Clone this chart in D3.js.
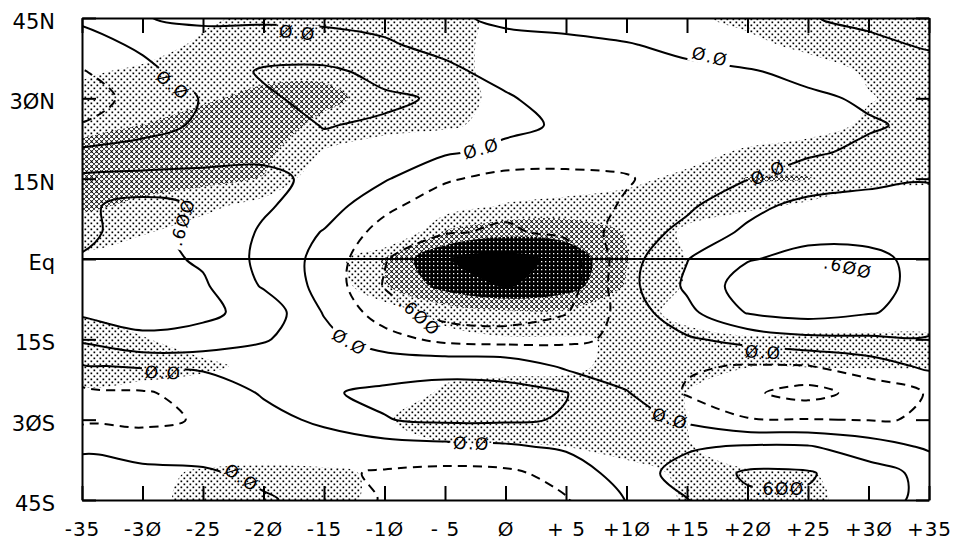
<!DOCTYPE html>
<html>
<head>
<meta charset="utf-8">
<title>Lag regression map</title>
<script src="https://d3js.org/d3.v7.min.js"></script>
<style>
  body { margin: 0; background: #fff; }
  svg { display: block; }
</style>
</head>
<body>
<script>
var w = 953, h = 543;

// grid of the analysis: longitude lag (columns) and latitude (rows, north to south)
var lons = [-35, -30, -25, -20, -15, -10, -5, 0, 5, 10, 15, 20, 25, 30, 35];
var lats = [45, 40, 35, 30, 25, 20, 15, 10, 5, 0, -5, -10, -15, -20, -25, -30, -35, -40, -45];

var xTickLabels = ["-35", "-3Ø", "-25", "-2Ø", "-15", "-1Ø", "- 5", "Ø", "+ 5", "+1Ø", "+15", "+2Ø", "+25", "+3Ø", "+35"];
var yTickValues = [45, 30, 15, 0, -15, -30, -45];
var yTickLabels = ["45N", "3ØN", "15N", "Eq", "15S", "3ØS", "45S"];

var lineLevels = [-0.6, -0.3, 0, 0.3, 0.6];
var shadeLevels = [1, 2, 3, 4];

// contoured field, one row per latitude
var lineField = [
  [0.05, 0.01, -0.05, -0.05, -0.05, -0.05, -0.05, 0.05, 0.12, 0.18, 0.22, 0.26, 0.29, 0.34, 0.38],
  [-0.12, 0.05, 0.12, 0.15, 0.10, 0.02, -0.05, -0.08, -0.08, -0.02, 0.08, 0.15, 0.20, 0.26, 0.32],
  [-0.32, -0.08, 0.15, 0.33, 0.36, 0.22, 0.04, -0.06, -0.10, -0.10, -0.07, -0.02, 0.06, 0.15, 0.22],
  [-0.40, -0.22, 0.02, 0.26, 0.38, 0.34, 0.27, 0.02, -0.08, -0.12, -0.12, -0.09, -0.04, 0.03, 0.10],
  [-0.29, -0.12, 0.05, 0.20, 0.31, 0.27, 0.18, 0.07, -0.04, -0.12, -0.15, -0.13, -0.08, -0.02, 0.04],
  [0.06, 0.12, 0.20, 0.26, 0.24, 0.14, 0.04, -0.07, -0.12, -0.16, -0.16, -0.10, -0.03, 0.04, 0.10],
  [0.36, 0.38, 0.37, 0.34, 0.26, 0.03, -0.26, -0.40, -0.40, -0.33, -0.12, -0.01, 0.10, 0.20, 0.27],
  [0.55, 0.70, 0.56, 0.34, 0.15, -0.22, -0.48, -0.55, -0.50, -0.26, -0.05, 0.20, 0.40, 0.45, 0.45],
  [0.57, 0.66, 0.54, 0.26, -0.02, -0.42, -0.58, -0.63, -0.55, -0.15, 0.08, 0.36, 0.52, 0.55, 0.50],
  [0.61, 0.70, 0.56, 0.22, -0.10, -0.58, -0.85, -0.88, -0.75, -0.12, 0.29, 0.58, 0.68, 0.64, 0.55],
  [0.68, 0.73, 0.64, 0.27, -0.10, -0.62, -0.88, -0.90, -0.75, -0.10, 0.35, 0.75, 0.78, 0.70, 0.50],
  [0.65, 0.70, 0.66, 0.50, -0.02, -0.45, -0.72, -0.78, -0.62, -0.18, 0.22, 0.62, 0.72, 0.62, 0.50],
  [0.35, 0.55, 0.50, 0.33, 0.10, -0.18, -0.38, -0.42, -0.36, -0.24, -0.04, 0.10, 0.22, 0.25, 0.27],
  [-0.02, 0.03, 0.05, 0.10, 0.15, 0.20, 0.22, 0.20, -0.05, -0.18, -0.27, -0.32, -0.31, -0.15, 0.06],
  [-0.38, -0.33, -0.20, 0.03, 0.28, 0.34, 0.38, 0.37, 0.31, 0.02, -0.33, -0.55, -0.72, -0.48, -0.28],
  [-0.36, -0.35, -0.28, -0.10, 0.06, 0.29, 0.35, 0.34, 0.28, 0.12, -0.05, -0.28, -0.29, -0.31, -0.29],
  [-0.05, -0.18, -0.20, -0.20, -0.15, -0.12, -0.08, -0.04, 0.05, 0.15, 0.26, 0.33, 0.32, 0.15, -0.05],
  [0.12, 0.10, 0.06, -0.10, -0.25, -0.33, -0.38, -0.36, -0.20, 0.15, 0.42, 0.64, 0.63, 0.42, 0.22],
  [0.20, 0.20, 0.15, 0.05, -0.15, -0.32, -0.40, -0.34, -0.32, 0.01, 0.29, 0.55, 0.56, 0.38, 0.25]
];

// shaded field (stipple levels), same grid
var shadeField = [
  [0, 0.3, 0.8, 1.3, 1.4, 1.4, 1.3, 0.75, 0.3, 0.4, 0.85, 1.2, 1.3, 1.3, 1.3],
  [0, 0.5, 1.2, 1.5, 1.6, 1.5, 1.3, 0.7, 0.2, 0.1, 0.4, 0.8, 1.2, 1.4, 1.4],
  [0.85, 1.2, 1.5, 1.8, 1.85, 1.6, 1.3, 0.7, 0.2, 0, 0, 0.3, 0.6, 1.1, 1.4],
  [1.3, 1.6, 1.9, 2.2, 2.2, 1.7, 1.3, 0.8, 0.2, 0, 0, 0.1, 0.4, 0.95, 1.3],
  [1.6, 2.0, 2.3, 2.4, 1.8, 1.5, 1.2, 0.6, 0.1, 0, 0, 0.1, 0.6, 1.15, 1.3],
  [2.4, 2.5, 2.5, 2.3, 0.9, 0.2, 0, 0, 0, 0, 0.5, 1.2, 1.4, 1.4, 1.4],
  [2.4, 2.4, 2.3, 1.95, 0.2, 0, 0, 0, 0.2, 0.7, 1.3, 2.05, 2.05, 1.4, 1.3],
  [2.2, 1.8, 1.3, 0.6, 0, 0, 0.4, 1.1, 1.4, 1.5, 1.5, 1.3, 0.8, 0.2, 0],
  [1.4, 1.1, 0.5, 0, 0, -0.5, 2.1, 2.7, 2.6, 1.95, 0.8, 0, 0, 0, 0],
  [0.8, 0.2, 0, 0, 0.3, 2.1, 3.95, 4.4, 3.7, 2.05, 1.0, 0, 0, 0, 0],
  [0, 0, 0, 0, 0.2, 1.9, 3.4, 4.1, 3.5, 1.9, 0.9, 0, 0, 0, 0],
  [0.85, 0.3, 0, 0, 0, 0.4, 1.4, 1.8, 1.8, 1.4, 0.7, 0, 0, 0, 0],
  [1.5, 1.1, 0.3, 0, 0, 0.1, 0.6, 0.9, 0.9, 1.1, 1.3, 1.15, 1.3, 1.35, 1.35],
  [1.5, 1.5, 1.3, 0.6, 0.1, 0.2, 0.7, 0.8, 0.85, 1.2, 1.3, 1.05, 1.05, 1.1, 1.1],
  [0.85, 0.6, 0.2, 0, 0, 0.4, 1.15, 1.3, 1.3, 1.3, 1.0, 0.2, 0, 0, 0],
  [0, 0, 0, 0, 0.2, 0.95, 1.3, 1.3, 1.3, 1.3, 1.0, 0.2, 0, 0, 0],
  [0, 0, 0.1, 0.3, 0.3, 0.7, 0.95, 0.95, 1.0, 1.2, 1.1, 0.2, 0, 0, 0],
  [0, 0.6, 1.2, 1.3, 1.2, 0.85, 0.2, 0, 0.1, 0.8, 1.1, 1.15, 1.1, 0.4, 0],
  [0, 0.7, 1.3, 1.3, 1.2, 0.85, 0.1, 0, 0, 0.4, 1.1, 1.3, 1.2, 0.6, 0]
];

// contour labels as printed on the map
var contourLabels = [
  {lon: -27.5, lat: 32.5, angle: 38, text: "Ø.Ø"},
  {lon: -17.2, lat: 42.3, angle: 6, text: "Ø.Ø"},
  {lon: -26.7, lat: 6.9, angle: -73, text: ".6ØØ"},
  {lon: -2.0, lat: 20.6, angle: -16, text: "Ø.Ø"},
  {lon: 16.9, lat: 37.8, angle: 14, text: "Ø.Ø"},
  {lon: 21.7, lat: 16.1, angle: -25, text: "Ø.Ø"},
  {lon: 28.3, lat: -1.6, angle: 13, text: ".6ØØ"},
  {lon: -7.1, lat: -10.7, angle: 42, text: ".6ØØ"},
  {lon: -12.9, lat: -15.5, angle: 30, text: "Ø.Ø"},
  {lon: -28.3, lat: -21.2, angle: 3, text: "Ø.Ø"},
  {lon: 21.3, lat: -17.4, angle: 3, text: "Ø.Ø"},
  {lon: -2.8, lat: -34.4, angle: 2, text: "Ø.Ø"},
  {lon: 13.6, lat: -29.8, angle: 18, text: "Ø.Ø"},
  {lon: -21.8, lat: -40.8, angle: 33, text: "Ø.Ø"},
  {lon: 22.7, lat: -43.0, angle: 0, text: ".6ØØ"}
];

var x0 = 82, x1 = 929, y0 = 18, y1 = 500;

var xScale = d3.scaleLinear().domain([-35, 35]).range([x0, x1]);
var yScale = d3.scaleLinear().domain([45, -45]).range([y0, y1]);

// d3.contours puts grid value i at coordinate i + 0.5
var gridLon = d3.scaleLinear().domain([0.5, lons.length - 0.5]).range([lons[0], lons[lons.length - 1]]);
var gridLat = d3.scaleLinear().domain([0.5, lats.length - 0.5]).range([lats[0], lats[lats.length - 1]]);

var svg = d3.select("body").append("svg").attr("width", w).attr("height", h);
var defs = svg.append("defs");

defs.append("clipPath").attr("id", "plotClip")
  .append("rect").attr("x", x0).attr("y", y0).attr("width", x1 - x0).attr("height", y1 - y0);

// stipple patterns
var p1 = defs.append("pattern").attr("id", "shade1").attr("patternUnits", "userSpaceOnUse")
  .attr("width", 6).attr("height", 6);
p1.append("rect").attr("width", 6).attr("height", 6).attr("fill", "#fff");
p1.append("rect").attr("x", 0.5).attr("y", 0.5).attr("width", 1.7).attr("height", 1.7).attr("fill", "#000");
p1.append("rect").attr("x", 3.5).attr("y", 3.5).attr("width", 1.7).attr("height", 1.7).attr("fill", "#000");

var p2 = defs.append("pattern").attr("id", "shade2").attr("patternUnits", "userSpaceOnUse")
  .attr("width", 5).attr("height", 5);
p2.append("rect").attr("width", 5).attr("height", 5).attr("fill", "#fff");
p2.append("path").attr("d", "M0.3,0.3L2.9,2.9M2.9,0.3L0.3,2.9")
  .attr("stroke", "#000").attr("stroke-width", 1.1);
p2.append("rect").attr("x", 3.1).attr("y", 3.1).attr("width", 1.7).attr("height", 1.7).attr("fill", "#000");

var p3 = defs.append("pattern").attr("id", "shade3").attr("patternUnits", "userSpaceOnUse")
  .attr("width", 4).attr("height", 4);
p3.append("rect").attr("width", 4).attr("height", 4).attr("fill", "#000");
p3.append("rect").attr("x", 1).attr("y", 1).attr("width", 1.3).attr("height", 1.3).attr("fill", "#fff");

var shadeFill = ["url(#shade1)", "url(#shade2)", "url(#shade3)", "#000"];

var ringLine = d3.line()
  .x(function(p) { return xScale(gridLon(p[0])); })
  .y(function(p) { return yScale(gridLat(p[1])); })
  .curve(d3.curveCatmullRomClosed.alpha(0.5));

function multiPath(mp) {
  return mp.coordinates.map(function(poly) {
    return poly.map(function(ring) { return ringLine(ring.slice(0, -1)); }).join("");
  }).join("");
}

var contourGen = d3.contours().size([lons.length, lats.length]);

// shading
var shadeBands = contourGen.thresholds(shadeLevels)(shadeField.flat());
svg.append("g").attr("clip-path", "url(#plotClip)")
  .selectAll("path")
  .data(shadeBands)
  .enter()
  .append("path")
  .attr("d", multiPath)
  .attr("fill", function(d, i) { return shadeFill[i]; })
  .attr("stroke", "none");

// labels (measured first so the lines can be cut around them)
var labelFont = 17;
var labelLayer = svg.append("g");
var labelGroups = labelLayer.selectAll("g")
  .data(contourLabels)
  .enter()
  .append("g")
  .attr("transform", function(d) {
    return "translate(" + xScale(d.lon) + "," + yScale(d.lat) + ") rotate(" + d.angle + ")";
  });
labelGroups.append("text")
  .attr("text-anchor", "middle")
  .attr("dy", "0.36em")
  .attr("font-family", "DejaVu Sans, sans-serif")
  .attr("font-size", labelFont)
  .attr("letter-spacing", 1.5)
  .text(function(d) { return d.text; });

var mask = defs.append("mask").attr("id", "labelMask")
  .attr("maskUnits", "userSpaceOnUse")
  .attr("x", 0).attr("y", 0).attr("width", w).attr("height", h);
mask.append("rect").attr("width", w).attr("height", h).attr("fill", "#fff");
labelGroups.each(function(d) {
  var bw = d3.select(this).select("text").node().getBBox().width;
  mask.append("rect")
    .attr("x", -bw / 2 - 3).attr("y", -9).attr("width", bw + 6).attr("height", 18)
    .attr("fill", "#000")
    .attr("transform", d3.select(this).attr("transform"));
});

// contour lines
var lineBands = contourGen.thresholds(lineLevels)(lineField.flat());
svg.insert("g", function() { return labelLayer.node(); })
  .attr("clip-path", "url(#plotClip)")
  .append("g")
  .attr("mask", "url(#labelMask)")
  .selectAll("path")
  .data(lineBands)
  .enter()
  .append("path")
  .attr("d", multiPath)
  .attr("fill", "none")
  .attr("stroke", "#000")
  .attr("stroke-width", 2)
  .attr("stroke-linejoin", "round")
  .attr("stroke-dasharray", function(d) { return d.value < 0 ? "9,6" : null; });

// equator
svg.append("line")
  .attr("x1", x0).attr("x2", x1)
  .attr("y1", yScale(0)).attr("y2", yScale(0))
  .attr("stroke", "#000").attr("stroke-width", 2);

// axes with inward ticks
function styleAxis(g, size) {
  g.selectAll("path.domain").attr("stroke", "#000").attr("stroke-width", 2);
  g.selectAll(".tick line").attr("stroke", "#000").attr("stroke-width", 2);
  g.selectAll("text").attr("font-family", "DejaVu Sans, sans-serif").attr("font-size", size).attr("fill", "#000");
}

var gBottom = svg.append("g").attr("transform", "translate(0," + y1 + ")")
  .call(d3.axisBottom(xScale).tickValues(lons)
    .tickFormat(function(d, i) { return xTickLabels[i]; })
    .tickSizeInner(-14).tickSizeOuter(0).tickPadding(22));
styleAxis(gBottom, 20);
gBottom.selectAll("text").attr("letter-spacing", 1);

var gTop = svg.append("g").attr("transform", "translate(0," + y0 + ")")
  .call(d3.axisTop(xScale).tickValues(lons).tickFormat("")
    .tickSizeInner(-15).tickSizeOuter(0));
styleAxis(gTop, 20);

var gLeft = svg.append("g").attr("transform", "translate(" + x0 + ",0)")
  .call(d3.axisLeft(yScale).tickValues(yTickValues)
    .tickFormat(function(d, i) { return yTickLabels[i]; })
    .tickSizeInner(-14).tickSizeOuter(0).tickPadding(27));
styleAxis(gLeft, 21);
gLeft.selectAll("text").attr("dy", "0.5em");

var gRight = svg.append("g").attr("transform", "translate(" + x1 + ",0)")
  .call(d3.axisRight(yScale).tickValues(yTickValues).tickFormat("")
    .tickSizeInner(-13).tickSizeOuter(0));
styleAxis(gRight, 20);
</script>
</body>
</html>
